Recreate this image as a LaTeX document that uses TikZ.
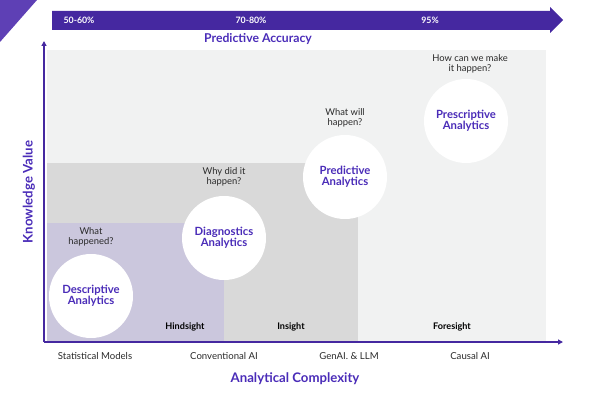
\documentclass[tikz,border=0pt]{standalone}
\usepackage{fontspec}
\setmainfont{Lato}
\usetikzlibrary{arrows.meta}
\definecolor{barpurple}{HTML}{4528A0}
\definecolor{txtpurple}{HTML}{4A2CB8}
\definecolor{corner}{HTML}{5E40B5}
\definecolor{bglight}{HTML}{F1F2F2}
\definecolor{bgmid}{HTML}{D9D9D9}
\definecolor{bglav}{HTML}{CBC7DD}
\definecolor{qtext}{HTML}{2A2A2A}
\tikzset{
  bubble/.style={circle, fill=white, minimum size=84pt, inner sep=0pt, align=center,
     text=txtpurple, font=\bfseries\fontsize{11.3}{11}\selectfont},
  question/.style={align=center, text=qtext, inner sep=0pt, font=\fontsize{9.4}{10.2}\selectfont},
  zone/.style={inner sep=0pt, font=\bfseries\fontsize{9.1}{10}\selectfont, text=black},
  xlab/.style={inner sep=0pt, text=qtext, font=\fontsize{9.6}{10}\selectfont},
  pct/.style={inner sep=0pt, text=white, font=\bfseries\fontsize{8.8}{10}\selectfont},
  axtitle/.style={inner sep=0pt, text=txtpurple, font=\bfseries\fontsize{13.2}{14}\selectfont},
  axis/.style={draw=barpurple, line width=1.5pt, -{Triangle[length=5pt,width=5pt]}}
}
\begin{document}
\begin{tikzpicture}[x=1pt,y=-1pt]
\useasboundingbox (0,0) rectangle (596,395);
% corner triangle
\fill[corner] (0,0) -- (37,0) -- (0,42) -- cycle;
% backgrounds
\fill[bglight] (47,50) rectangle (546,341);
\fill[bgmid] (47,163) rectangle (358,341);
\fill[bglav] (47,223) rectangle (224,341);
% top bar arrow
\fill[barpurple] (52,11) -- (550,11) -- (550,7) -- (563,20) -- (550,33) -- (550,30) -- (52,30) -- cycle;
\node[pct] (p1) at (79,20) {50-60\%};
\node[pct] (p2) at (251,20) {70-80\%};
\node[pct] (p3) at (430,20) {95\%};
\node[axtitle, font=\bfseries\fontsize{12.2}{14}\selectfont] (pa) at (258,39) {Predictive Accuracy};
% axes
\coordinate (origin) at (44,342);
\coordinate (ytip) at (44,41);
\coordinate (xtip) at (563,342);
\draw[axis] (origin) -- (ytip);
\draw[axis] (origin) -- (xtip);
\node[axtitle, rotate=90] (kv) at (29,192) {Knowledge Value};
\node[axtitle] (ac) at (295,379) {Analytical Complexity};
% bubbles
\node[bubble] (desc) at (91,296) {Descriptive\\Analytics};
\node[bubble] (diag) at (224,238) {Diagnostics\\Analytics};
\node[bubble] (pred) at (345,177) {Predictive\\Analytics};
\node[bubble] (pres) at (466,121) {Prescriptive\\Analytics};
% questions
\node[question] (q1) at (91,237) {What\\happened?};
\node[question] (q2) at (224,177) {Why did it\\happen?};
\node[question] (q3) at (345,118) {What will\\happen?};
\node[question] (q4) at (470,64) {How can we make\\it happen?};
% zones
\node[zone] (z1) at (185,327) {Hindsight};
\node[zone] (z2) at (291,327) {Insight};
\node[zone] (z3) at (452,327) {Foresight};
% x labels
\node[xlab] (x1) at (95,356) {Statistical Models};
\node[xlab] (x2) at (224,356) {Conventional AI};
\node[xlab] (x3) at (349,356) {GenAI. \& LLM};
\node[xlab] (x4) at (470,356) {Causal AI};
\end{tikzpicture}
\end{document}
